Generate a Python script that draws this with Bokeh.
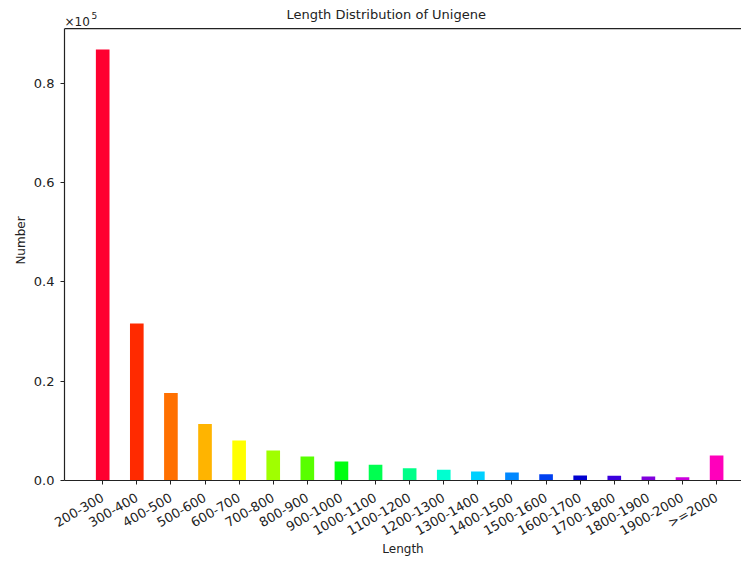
import math
from bokeh.plotting import figure
from bokeh.models import ColumnDataSource, Label, Span, CustomJSTickFormatter, FixedTicker, Range1d
from bokeh.embed import file_html
from bokeh.resources import INLINE

categories = ["200-300", "300-400", "400-500", "500-600", "600-700", "700-800", "800-900",
              "900-1000", "1000-1100", "1100-1200", "1200-1300", "1300-1400", "1400-1500",
              "1500-1600", "1600-1700", "1700-1800", "1800-1900", "1900-2000", ">=2000"]
counts = [86800, 31600, 17600, 11400, 8060, 6040, 4830, 3830, 3160, 2480, 2150, 1810,
          1610, 1270, 1010, 940, 810, 670, 5040]
colors = ["#ff0030", "#ff2a00", "#ff7000", "#ffb400", "#ffff00", "#a0ff00", "#58ff00",
          "#00ff10", "#00ff50", "#00ff88", "#00ffd0", "#00d0ff", "#0088ff", "#0040f0",
          "#0000d0", "#3a00dd", "#8000dd", "#cc00dd", "#ff00bb"]
y_ticks = [0, 20000, 40000, 60000, 80000]
y_top = 91000

xs = list(range(len(categories)))
src = ColumnDataSource(dict(x=xs, top=counts, color=colors))

FONT = "DejaVu Sans"
p = figure(width=741, height=560, output_backend="svg", toolbar_location=None,
           x_range=Range1d(-1.12, 18.73), y_range=Range1d(0, 96680),
           min_border_left=64, min_border_right=0, min_border_top=0, min_border_bottom=80)
p.vbar(x="x", top="top", width=0.4, bottom=0, fill_color="color", line_color=None, source=src)

p.xgrid.visible = False
p.ygrid.visible = False
p.outline_line_color = None
p.add_layout(Span(location=y_top, dimension="width", line_color="#222222", line_width=1.2))

p.xaxis.ticker = FixedTicker(ticks=xs)
p.xaxis.major_label_overrides = {i: c for i, c in enumerate(categories)}
p.xaxis.major_label_orientation = math.pi / 6
p.xaxis.axis_label = "Length"
p.yaxis.axis_label = "Number"
p.yaxis.ticker = FixedTicker(ticks=y_ticks)
p.yaxis.bounds = (0, y_top)
p.yaxis.formatter = CustomJSTickFormatter(code="return (tick/100000).toFixed(1);")

for ax in (p.xaxis[0], p.yaxis[0]):
    ax.axis_line_color = "#222222"
    ax.axis_line_width = 1.2
    ax.major_tick_line_color = "#222222"
    ax.major_tick_out = 4
    ax.major_tick_in = 0
    ax.minor_tick_line_color = None
    ax.major_label_text_font = FONT
    ax.major_label_text_font_size = "13px"
    ax.major_label_text_color = "#222222"
    ax.axis_label_text_font = FONT
    ax.axis_label_text_font_size = "12px"
    ax.axis_label_text_font_style = "normal"
    ax.axis_label_text_color = "#222222"
p.xaxis.major_label_standoff = 12
p.xaxis.axis_label_standoff = -6
p.yaxis.major_label_standoff = 6
p.yaxis.axis_label_standoff = 3

p.add_layout(Label(x=222, y=466, x_units="screen", y_units="screen",
                   text="Length Distribution of Unigene", text_baseline="middle",
                   text_font=FONT, text_font_size="13px", text_color="#222222"))
p.add_layout(Label(x=0, y=459, x_units="screen", y_units="screen", text="×10",
                   text_baseline="middle",
                   text_font=FONT, text_font_size="12px", text_color="#222222"))
p.add_layout(Label(x=27, y=465, x_units="screen", y_units="screen", text="5",
                   text_baseline="middle",
                   text_font=FONT, text_font_size="9px", text_color="#222222"))

open("out.html", "w").write(file_html(p, INLINE))
